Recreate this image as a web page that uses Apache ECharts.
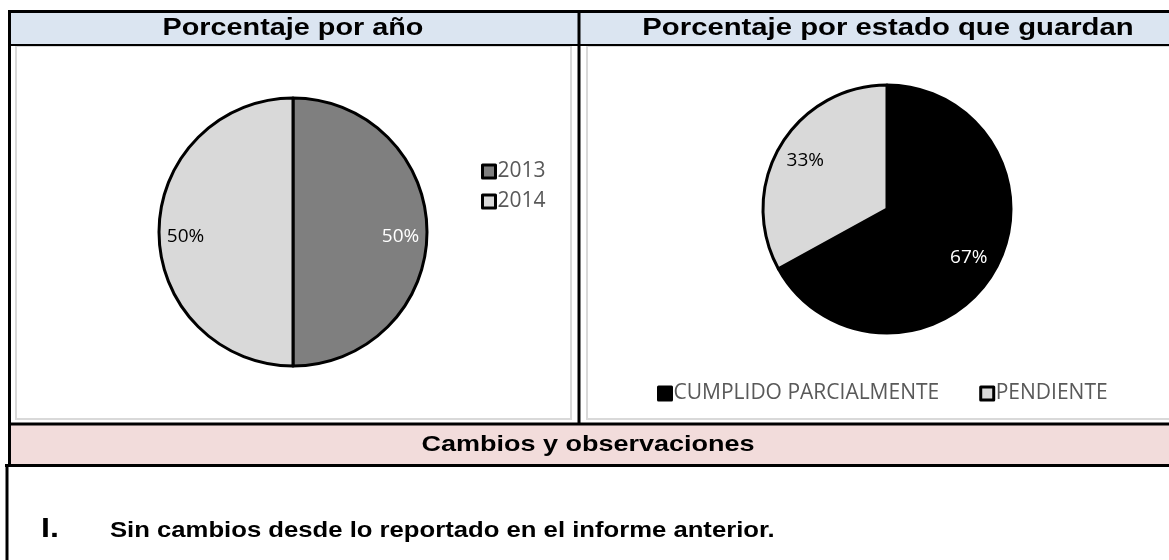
<!DOCTYPE html>
<html>
<head>
<meta charset="utf-8">
<script src="https://cdn.jsdelivr.net/npm/echarts@6/dist/echarts.min.js"></script>
<style>
  html, body { margin: 0; padding: 0; background: #fff; }
  #main { width: 1169px; height: 560px; }
</style>
</head>
<body>
<div id="main"></div>
<script>
// data
const yearNames = ['2013', '2014'];
const yearValues = [50, 50];
const yearColors = ['#7f7f7f', '#d9d9d9'];
const yearLabelColors = ['#ffffff', '#000000'];

const statusNames = ['CUMPLIDO PARCIALMENTE', 'PENDIENTE'];
const statusValues = [67, 33];
const statusColors = ['#000000', '#d9d9d9'];
const statusLabelColors = ['#ffffff', '#000000'];

const headerLeft = 'Porcentaje por año';
const headerRight = 'Porcentaje por estado que guardan';
const rowTitle = 'Cambios y observaciones';
const noteNumber = 'I.';
const noteText = 'Sin cambios desde lo reportado en el informe anterior.';

const chart = echarts.init(document.getElementById('main'));

const chartFont = '"Open Sans", "Noto Sans", sans-serif';
const headFont = '"Liberation Sans", Arial, sans-serif';

function pieData(names, values, colors) {
    return names.map((n, i) => ({ name: n, value: values[i], itemStyle: { color: colors[i] } }));
}
function labelData(names, values, labelColors) {
    return names.map((n, i) => ({ name: n, value: values[i], label: { color: labelColors[i] } }));
}

const line = (x1, y1, x2, y2, w) => ({
    type: 'line', silent: true, z: 10,
    shape: { x1, y1, x2, y2 },
    style: { stroke: '#000', lineWidth: w || 3 }
});

const legendText = { color: '#595959', fontSize: 21, fontFamily: chartFont, padding: [0, 0, 0, -3] };
const legendIcon = { borderColor: '#000', borderWidth: 3 };

const option = {
    animation: false,
    legend: [
        {
            orient: 'vertical', left: 476, top: 156, itemGap: 9,
            itemWidth: 13, itemHeight: 13, icon: 'rect',
            itemStyle: legendIcon,
            data: yearNames,
            textStyle: legendText
        },
        {
            orient: 'horizontal', left: 652, top: 378, itemGap: 40,
            itemWidth: 13, itemHeight: 13, icon: 'rect',
            itemStyle: legendIcon,
            data: statusNames,
            textStyle: legendText
        }
    ],
    graphic: [
        { type: 'rect', silent: true, z: 1, shape: { x: 9, y: 11, width: 1160, height: 34 }, style: { fill: '#dbe5f1' } },
        { type: 'rect', silent: true, z: 1, shape: { x: 9, y: 424, width: 1160, height: 41 }, style: { fill: '#f2dcdb' } },
        { type: 'rect', silent: true, z: 1, shape: { x: 16, y: 46, width: 555, height: 373 }, style: { fill: 'none', stroke: '#d9d9d9', lineWidth: 2 } },
        { type: 'rect', silent: true, z: 1, shape: { x: 587, y: 46, width: 590, height: 373 }, style: { fill: 'none', stroke: '#d9d9d9', lineWidth: 2 } },
        line(8, 11.5, 1169, 11.5),
        line(9.5, 10, 9.5, 466),
        line(8, 45, 1169, 45, 2),
        line(579, 10, 579, 424),
        line(8, 424, 1169, 424),
        line(5, 465.5, 1169, 465.5),
        line(7, 464, 7, 560),
        {
            type: 'text', z: 11, x: 293, y: 28, scaleX: 1.2,
            style: { text: headerLeft, font: 'bold 24px ' + headFont, fill: '#000', align: 'center', verticalAlign: 'middle' }
        },
        {
            type: 'text', z: 11, x: 888, y: 28, scaleX: 1.22,
            style: { text: headerRight, font: 'bold 24px ' + headFont, fill: '#000', align: 'center', verticalAlign: 'middle' }
        },
        {
            type: 'text', z: 11, x: 588, y: 445, scaleX: 1.2,
            style: { text: rowTitle, font: 'bold 22.5px ' + headFont, fill: '#000', align: 'center', verticalAlign: 'middle' }
        },
        {
            type: 'text', z: 11, x: 41, y: 529, scaleX: 1.15,
            style: { text: noteNumber, font: 'bold 28px ' + headFont, fill: '#000', align: 'left', verticalAlign: 'middle' }
        },
        {
            type: 'text', z: 11, x: 110, y: 531, scaleX: 1.2,
            style: { text: noteText, font: 'bold 21.4px ' + headFont, fill: '#000', align: 'left', verticalAlign: 'middle' }
        }
    ],
    series: [
        {
            type: 'pie', name: 'año', center: [293, 232], radius: 134,
            startAngle: 90, clockwise: true, silent: true,
            itemStyle: { borderColor: '#000', borderWidth: 3 },
            label: { show: false }, labelLine: { show: false },
            data: pieData(yearNames, yearValues, yearColors)
        },
        {
            // transparent ring that carries the percent labels near the rim
            type: 'pie', name: 'año-label', center: [293, 232], radius: [75, 134],
            startAngle: 90, clockwise: true, silent: true, z: 3,
            percentPrecision: 0,
            itemStyle: { color: 'rgba(0,0,0,0)', borderWidth: 0 },
            label: { show: true, position: 'inside', formatter: '{d}%', fontSize: 19, fontFamily: chartFont },
            labelLayout: { dy: 5 },
            labelLine: { show: false },
            data: labelData(yearNames, yearValues, yearLabelColors)
        },
        {
            type: 'pie', name: 'estado', center: [887, 209], radius: 124,
            startAngle: 90, clockwise: true, silent: true,
            itemStyle: { borderColor: '#000', borderWidth: 3 },
            label: { show: false }, labelLine: { show: false },
            data: pieData(statusNames, statusValues, statusColors)
        },
        {
            type: 'pie', name: 'estado-label', center: [887, 209], radius: [60, 124],
            startAngle: 90, clockwise: true, silent: true, z: 3,
            percentPrecision: 0,
            itemStyle: { color: 'rgba(0,0,0,0)', borderWidth: 0 },
            label: { show: true, position: 'inside', formatter: '{d}%', fontSize: 19, fontFamily: chartFont },
            labelLine: { show: false },
            data: labelData(statusNames, statusValues, statusLabelColors)
        }
    ]
};

chart.setOption(option);
window.addEventListener('resize', () => chart.resize());
</script>
</body>
</html>
